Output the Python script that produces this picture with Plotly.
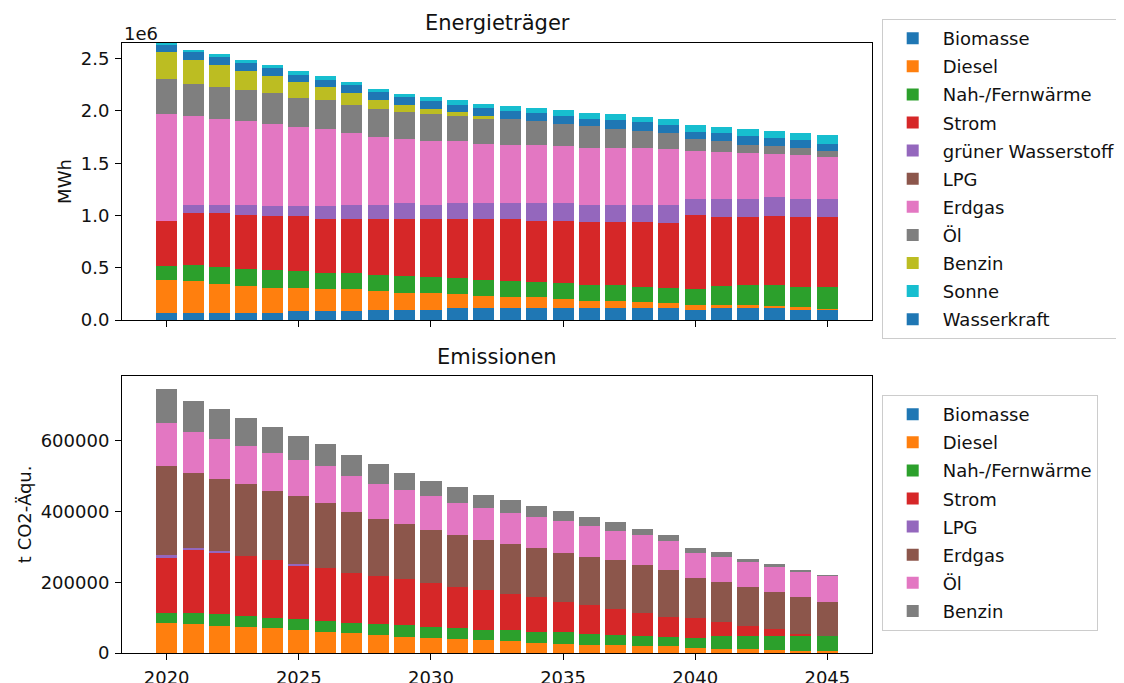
import plotly.graph_objects as go

# ---------------- data ----------------
years = [2020, 2021, 2022, 2023, 2024, 2025, 2026, 2027, 2028, 2029, 2030, 2031, 2032,
         2033, 2034, 2035, 2036, 2037, 2038, 2039, 2040, 2041, 2042, 2043, 2044, 2045]

# Energieträger (MWh)
e_biomasse = [64000, 64000, 64000, 64000, 64000, 83000, 83000, 89000, 96000, 96000, 96000, 112000, 112000,
              112000, 112000, 112000, 112000, 112000, 112000, 112000, 96000, 112000, 112000, 112000, 96000, 96000]
e_diesel = [319000, 306000, 281000, 262000, 246000, 227000, 211000, 205000, 182000, 166000, 159000, 134000, 118000,
            105000, 105000, 92000, 73000, 73000, 63000, 54000, 45000, 29000, 29000, 22000, 26000, 13000]
e_fernwaerme = [137000, 154000, 160000, 166000, 169000, 159000, 153000, 153000, 153000, 163000, 160000, 153000, 153000,
                160000, 150000, 147000, 150000, 150000, 144000, 144000, 153000, 185000, 194000, 201000, 197000, 210000]
e_strom = [428000, 504000, 517000, 517000, 514000, 524000, 523000, 523000, 536000, 539000, 549000, 565000, 581000,
           587000, 581000, 597000, 601000, 601000, 617000, 622000, 712000, 658000, 649000, 661000, 665000, 671000]
e_wasserstoff = [0, 70000, 80000, 89000, 93000, 93000, 116000, 128000, 135000, 154000, 138000, 154000, 154000,
                 154000, 170000, 170000, 166000, 166000, 166000, 170000, 153000, 175000, 175000, 179000, 175000, 169000]
e_lpg = [0, 0, 0, 0, 0, 0, 0, 0, 0, 0, 0, 0, 0,
         0, 0, 0, 0, 0, 0, 0, 0, 0, 0, 0, 0, 0]
e_erdgas = [1022000, 853000, 823000, 808000, 791000, 760000, 744000, 690000, 645000, 613000, 606000, 590000, 568000,
            558000, 558000, 542000, 543000, 548000, 543000, 536000, 460000, 450000, 438000, 412000, 415000, 403000]
e_oel = [332000, 306000, 304000, 291000, 291000, 274000, 277000, 271000, 267000, 258000, 259000, 246000, 236000,
         246000, 230000, 217000, 207000, 180000, 165000, 147000, 112000, 99000, 79000, 73000, 71000, 57000]
e_benzin = [262000, 227000, 211000, 185000, 169000, 157000, 122000, 109000, 90000, 70000, 47000, 32000, 29000,
            0, 0, 0, 0, 0, 0, 0, 0, 0, 0, 0, 0, 0]
e_wasserkraft = [70000, 80000, 76000, 77000, 74000, 70000, 70000, 76000, 77000, 74000, 77000, 73000, 73000,
                 73000, 74000, 74000, 70000, 79000, 80000, 76000, 70000, 80000, 80000, 80000, 79000, 67000]
e_sonne = [16000, 16000, 25000, 28000, 29000, 31000, 31000, 29000, 29000, 32000, 42000, 45000, 45000,
           48000, 44000, 60000, 58000, 58000, 54000, 61000, 67000, 58000, 71000, 70000, 64000, 80000]

# Emissionen (t CO2-Äqu.)
c_biomasse = [0, 0, 0, 0, 0, 0, 0, 0, 0, 0, 0, 0, 0,
              0, 0, 0, 0, 0, 0, 0, 0, 0, 0, 0, 0, 0]
c_diesel = [85800, 83000, 75500, 73600, 69800, 65100, 59400, 55700, 50000, 46200, 42400, 38700, 35800,
            33000, 28300, 24500, 23600, 23600, 19800, 19800, 15100, 12300, 11300, 9400, 5700, 4700]
c_fernwaerme = [28300, 31000, 33900, 31100, 30200, 31100, 32100, 29200, 33000, 32100, 32100, 33000, 29300,
                32100, 31100, 34000, 31100, 26400, 28300, 25500, 27300, 36800, 37800, 39700, 41500, 42500]
c_strom = [157600, 179400, 176400, 170700, 163200, 152800, 149000, 142400, 134900, 130200, 123600, 115100, 112200,
           102800, 99100, 86800, 80200, 74500, 66000, 55600, 55700, 38600, 28300, 19800, 7500, 0]
c_lpg = [4700, 4600, 1900, 0, 0, 3800, 0, 0, 0, 0, 0, 0, 0,
         0, 0, 0, 0, 0, 0, 0, 0, 0, 0, 0, 0, 0]
c_erdgas = [250900, 210400, 204700, 203800, 195300, 190600, 184000, 170800, 161300, 157500, 150000, 148100, 142500,
            139600, 137700, 137700, 136800, 137700, 134900, 134900, 115100, 112300, 108400, 103700, 103800, 98100]
c_oel = [122700, 115100, 112300, 104700, 108000, 101800, 103800, 102800, 100000, 94300, 95300, 89600, 91500,
         88700, 88700, 89600, 87700, 84000, 84900, 81200, 70700, 71700, 72700, 71700, 72600, 74500]
c_benzin = [96000, 89500, 85800, 79200, 72700, 68900, 63200, 59400, 54700, 50000, 44300, 45300, 36800,
            35800, 30100, 29300, 25500, 23600, 18000, 17900, 14200, 13200, 8400, 6600, 3800, 1000]

x_ticks = [2020, 2025, 2030, 2035, 2040, 2045]
y1_ticks = [0, 500000, 1000000, 1500000, 2000000, 2500000]
y1_ticktext = ["0.0", "0.5", "1.0", "1.5", "2.0", "2.5"]
y2_ticks = [0, 200000, 400000, 600000]

# ---------------- style ----------------
C = {"blue": "#1f77b4", "orange": "#ff7f0e", "green": "#2ca02c", "red": "#d62728",
     "purple": "#9467bd", "brown": "#8c564b", "pink": "#e377c2", "gray": "#7f7f7f",
     "olive": "#bcbd22", "cyan": "#17becf"}

# (name, values, color, legend rank) in stacking order bottom -> top
top_series = [
    ("Biomasse", e_biomasse, C["blue"], 1),
    ("Diesel", e_diesel, C["orange"], 2),
    ("Nah-/Fernwärme", e_fernwaerme, C["green"], 3),
    ("Strom", e_strom, C["red"], 4),
    ("grüner Wasserstoff", e_wasserstoff, C["purple"], 5),
    ("LPG", e_lpg, C["brown"], 6),
    ("Erdgas", e_erdgas, C["pink"], 7),
    ("Öl", e_oel, C["gray"], 8),
    ("Benzin", e_benzin, C["olive"], 9),
    ("Wasserkraft", e_wasserkraft, C["blue"], 11),
    ("Sonne", e_sonne, C["cyan"], 10),
]
bottom_series = [
    ("Biomasse", c_biomasse, C["blue"], 1),
    ("Diesel", c_diesel, C["orange"], 2),
    ("Nah-/Fernwärme", c_fernwaerme, C["green"], 3),
    ("Strom", c_strom, C["red"], 4),
    ("LPG", c_lpg, C["purple"], 5),
    ("Erdgas", c_erdgas, C["brown"], 6),
    ("Öl", c_oel, C["pink"], 7),
    ("Benzin", c_benzin, C["gray"], 8),
]

fig = go.Figure()
for name, vals, col, rank in top_series:
    fig.add_trace(go.Bar(x=years, y=vals, name=name, width=0.8,
                         marker=dict(color=col, line=dict(width=0)),
                         xaxis="x", yaxis="y", legend="legend",
                         legendgroup="t_" + name, legendrank=rank))
for name, vals, col, rank in bottom_series:
    fig.add_trace(go.Bar(x=years, y=vals, name=name, width=0.8,
                         marker=dict(color=col, line=dict(width=0)),
                         xaxis="x2", yaxis="y2", legend="legend2",
                         legendgroup="b_" + name, legendrank=rank))

FONT = "DejaVu Sans"
TXT = "#111111"
OFF = 8  # page body margin in the browser
W, H = 1116, 675
M_L, M_R, M_T, M_B = 122 - OFF, 252, 43 - OFF, 30
PH = H - M_T - M_B
PW = W - M_L - M_R


def py(pix):
    """window pixel row -> paper y"""
    return (H - M_B - (pix - OFF)) / PH


def px(pix):
    """window pixel column -> paper x"""
    return (pix - OFF - M_L) / PW


axis_common = dict(showline=True, mirror=True, linecolor="black", linewidth=1,
                   showgrid=False, zeroline=False, ticks="outside", ticklen=6,
                   tickwidth=1, tickcolor="black",
                   tickfont=dict(family=FONT, size=18, color=TXT))

legend_common = dict(xanchor="left", yanchor="top",
                     bordercolor="#cccccc", borderwidth=1, bgcolor="white",
                     font=dict(family=FONT, size=18, color=TXT),
                     traceorder="grouped", tracegroupgap=1.7, itemwidth=50)

fig.update_layout(
    width=W, height=H,
    margin=dict(l=M_L, r=M_R, t=M_T, b=M_B, autoexpand=False),
    paper_bgcolor="white", plot_bgcolor="white",
    barmode="stack",
    font=dict(family=FONT, size=18, color=TXT),
    xaxis=dict(domain=[0, 1], anchor="y", range=[2018.31, 2046.69],
               tickvals=x_ticks, showticklabels=False, **axis_common),
    xaxis2=dict(domain=[0, 1], anchor="y2", range=[2018.31, 2046.69], matches="x",
                tickvals=x_ticks, ticklabelstandoff=2, **axis_common),
    yaxis=dict(domain=[py(320), 1], anchor="x", range=[0, 2650000],
               tickvals=y1_ticks, ticktext=y1_ticktext, ticklabelstandoff=2,
               title=dict(text="MWh", standoff=4, font=dict(family=FONT, size=18, color=TXT)),
               automargin=False, **axis_common),
    yaxis2=dict(domain=[0, py(375.7)], anchor="x2", range=[0, 784000],
                tickvals=y2_ticks, tickformat="d", ticklabelstandoff=2,
                title=dict(text="t CO2-Äqu.", standoff=4, font=dict(family=FONT, size=18, color=TXT)),
                automargin=False, **axis_common),
    legend=dict(x=px(881.7), y=py(19), **legend_common),
    legend2=dict(x=px(881.7), y=py(395), **legend_common),
    annotations=[
        dict(text="Energieträger", x=0.5, y=py(23.3), xref="paper", yref="paper",
             xanchor="center", yanchor="middle", showarrow=False,
             font=dict(family=FONT, size=21, color=TXT)),
        dict(text="Emissionen", x=0.5, y=py(357), xref="paper", yref="paper",
             xanchor="center", yanchor="middle", showarrow=False,
             font=dict(family=FONT, size=21, color=TXT)),
        dict(text="1e6", x=0, y=py(33.3), xref="paper", yref="paper",
             xanchor="left", yanchor="middle", showarrow=False,
             font=dict(family=FONT, size=18, color=TXT)),
    ],
)

fig.write_html("out.html")
